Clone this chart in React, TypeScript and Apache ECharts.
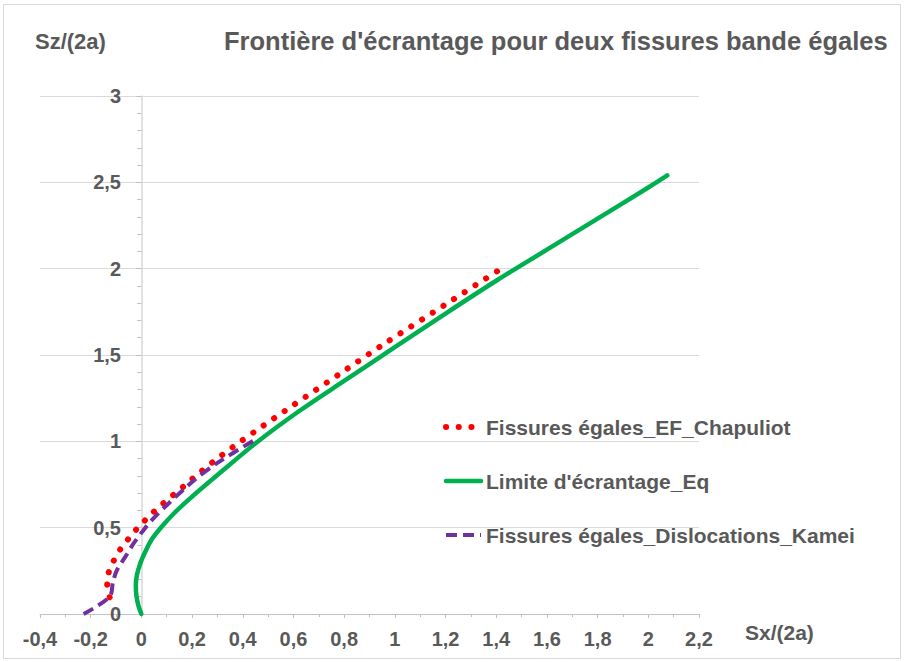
import React, { useEffect, useRef } from "react";
import * as echarts from "echarts";

// Fissures égales_EF_Chapuliot
const chapuliotX = [-0.125, -0.135, -0.129, -0.109, -0.083, -0.05, -0.02, 0.016, 0.051, 0.088, 0.128, 0.167, 0.204, 0.283, 0.362, 0.446, 0.6, 0.8, 0.947, 1.2, 1.413];
const chapuliotY = [0.097, 0.174, 0.24, 0.309, 0.375, 0.437, 0.49, 0.545, 0.595, 0.643, 0.692, 0.74, 0.787, 0.881, 0.968, 1.055, 1.21, 1.408, 1.554, 1.793, 1.994];

// Limite d'écrantage_Eq
const limiteX = [0, -0.012, -0.02, -0.022, -0.017, -0.005, 0.012, 0.04, 0.08, 0.13, 0.2, 0.3, 0.456, 0.627, 0.8, 1.0, 1.2, 1.4, 1.6, 1.8, 2.0, 2.075];
const limiteY = [0, 0.05, 0.11, 0.17, 0.23, 0.29, 0.35, 0.43, 0.505, 0.585, 0.68, 0.805, 0.995, 1.18, 1.35, 1.545, 1.74, 1.93, 2.11, 2.29, 2.47, 2.54];

// Fissures égales_Dislocations_Kamei
const kameiX = [-0.228, -0.125, -0.112, -0.096, -0.063, -0.03, 0.009, 0.042, 0.1, 0.206, 0.3, 0.443];
const kameiY = [0, 0.1, 0.187, 0.255, 0.332, 0.41, 0.487, 0.545, 0.63, 0.772, 0.875, 1.005];

const seriesNames = [
  "Fissures égales_EF_Chapuliot",
  "Limite d'écrantage_Eq",
  "Fissures égales_Dislocations_Kamei",
];

const titleText = "Frontière d'écrantage pour deux fissures bande égales";
const yAxisName = "Sz/(2a)";
const xAxisName = "Sx/(2a)";

const pairs = (xs: number[], ys: number[]) => xs.map((x, i) => [x, ys[i]]);

const fmt = (v: number) => String(+v.toFixed(1)).replace(".", ",");

const FONT = "'Liberation Sans', Arial, sans-serif";
const TXT = "#595959";

export default function App() {
  const ref = useRef<HTMLDivElement>(null);
  useEffect(() => {
    if (!ref.current) return;
    const chart = echarts.init(ref.current, undefined, { renderer: "svg" });
    chart.setOption({
      animation: false,
      backgroundColor: "#ffffff",
      textStyle: { fontFamily: FONT },
      grid: { left: 40, right: 205, top: 96, bottom: 48, containLabel: false },
      title: {
        text: titleText,
        left: 219,
        top: 23,
        textStyle: { fontFamily: FONT, fontSize: 25.5, fontWeight: "bold", color: TXT },
      },
      graphic: [
        {
          type: "rect",
          shape: { x: 3.5, y: 4.5, width: 897, height: 654 },
          style: { fill: "none", stroke: "#d9d9d9", lineWidth: 1 },
          silent: true,
        },
        {
          type: "text",
          left: 35,
          top: 30,
          style: { text: yAxisName, fontFamily: FONT, fontSize: 22, fontWeight: "bold", fill: TXT },
        },
        {
          type: "text",
          left: 745,
          top: 622,
          style: { text: xAxisName, fontFamily: FONT, fontSize: 21, fontWeight: "bold", fill: TXT },
        },
      ],
      legend: {
        orient: "vertical",
        left: 438,
        top: 410,
        itemGap: 30,
        itemWidth: 35,
        itemHeight: 14,
        data: seriesNames,
        itemStyle: { opacity: 0 },
        lineStyle: { width: "inherit", type: "inherit", cap: "inherit" },
        textStyle: { fontFamily: FONT, fontSize: 21, fontWeight: "bold", color: TXT, lineHeight: 24 },
      },
      xAxis: {
        type: "value",
        min: -0.4,
        max: 2.2,
        interval: 0.2,
        axisLine: { onZero: true, lineStyle: { color: "#bfbfbf", width: 1, type: "dotted" } },
        axisTick: { show: true, length: 4, lineStyle: { color: "#bfbfbf" } },
        minorTick: { show: true, splitNumber: 2, length: 3, lineStyle: { color: "#bfbfbf" } },
        splitLine: { show: false },
        axisLabel: {
          formatter: fmt,
          fontFamily: FONT,
          fontSize: 20,
          fontWeight: "bold",
          color: TXT,
          margin: 15,
        },
      },
      yAxis: {
        type: "value",
        min: 0,
        max: 3,
        interval: 0.5,
        axisLine: { onZero: true, lineStyle: { color: "#d9d9d9", width: 1.5 } },
        axisTick: { show: true, length: 5, lineStyle: { color: "#bfbfbf" } },
        minorTick: { show: true, splitNumber: 5, length: 4, lineStyle: { color: "#bfbfbf" } },
        splitLine: { show: true, lineStyle: { color: "#d9d9d9", width: 1 } },
        axisLabel: {
          formatter: fmt,
          fontFamily: FONT,
          fontSize: 20,
          fontWeight: "bold",
          color: TXT,
          margin: -81,
        },
      },
      series: [
        {
          name: seriesNames[0],
          type: "line",
          data: pairs(chapuliotX, chapuliotY),
          symbol: "none",
          smooth: 0.3,
          color: "#ff0000",
          lineStyle: { color: "#ff0000", width: 6, type: [0.1, 12.6], cap: "round" },
          z: 3,
        },
        {
          name: seriesNames[1],
          type: "line",
          data: pairs(limiteX, limiteY),
          symbol: "none",
          smooth: 0.3,
          color: "#00b050",
          lineStyle: { color: "#00b050", width: 4.5, cap: "round" },
          z: 2,
        },
        {
          name: seriesNames[2],
          type: "line",
          data: pairs(kameiX, kameiY),
          symbol: "none",
          smooth: 0.3,
          color: "#7030a0",
          lineStyle: { color: "#7030a0", width: 4, type: [11, 6] },
          z: 4,
        },
      ],
    });
    return () => chart.dispose();
  }, []);
  return (
    <div
      ref={ref}
      style={{ position: "absolute", left: 0, top: 0, width: 904, height: 662 }}
    />
  );
}
